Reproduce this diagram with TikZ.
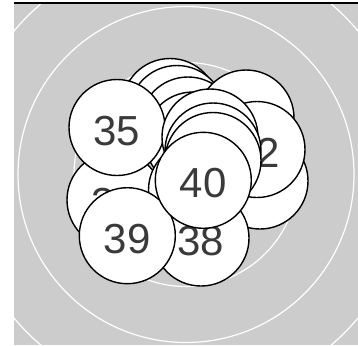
\documentclass[tikz,border=0pt]{standalone}
\usepackage{fontspec}
\setmainfont{Liberation Sans}
\usetikzlibrary{positioning}
\definecolor{panelgray}{HTML}{CCCCCC}
\definecolor{labelgray}{HTML}{3A3A3A}

\begin{document}
\begin{tikzpicture}[x=0.5pt,y=0.5pt,
  hole/.style={circle,draw=black,fill=white,line width=0.7pt,minimum size=48pt,inner sep=0pt,
    text=labelgray,font=\fontsize{21}{21}\selectfont,text height=17.5pt,text depth=0pt},
  ring/.style={draw=white,line width=0.6pt}]
\useasboundingbox (-186,-170.5) rectangle (172,174.5);
\fill[panelgray] (-172,-170.5) rectangle (172,171.5);
\begin{scope}
\clip (-172,-170.5) rectangle (172,171.5);
\foreach \r in {112,168,224}
  \draw[ring] (0,0) circle (\r);
\end{scope}
\draw[line width=0.6pt] (-172,171.5) -- (172,171.5);

% shots, first fired at the bottom
\node[hole] (s1) at (-16,68) {};
\node[hole] (s2) at (-9,61) {};
\node[hole] (s3) at (2,49.5) {};
\node[hole] (s4) at (7,34.5) {};
\node[hole] (s5) at (-71,-25.5) {33};
\node[hole] (s6) at (10.5,-15.5) {};
\node[hole] (s7) at (60,56.5) {};
\node[hole] (s8) at (70,-1.5) {};
\node[hole] (s9) at (72,-5.5) {};
\node[hole] (s10) at (74,-6.5) {};
\node[hole] (s11) at (71,25) {32};
\node[hole] (s12) at (-69,47) {35};
\node[hole] (s13) at (24,37.5) {};
\node[hole] (s14) at (27,23.5) {};
\node[hole] (s15) at (27,14) {};
\node[hole] (s16) at (15,-63.5) {38};
\node[hole] (s17) at (-58.7,-61.2) {39};
\node[hole] (s18) at (17.3,-5.8) {40};
\end{tikzpicture}
\end{document}
